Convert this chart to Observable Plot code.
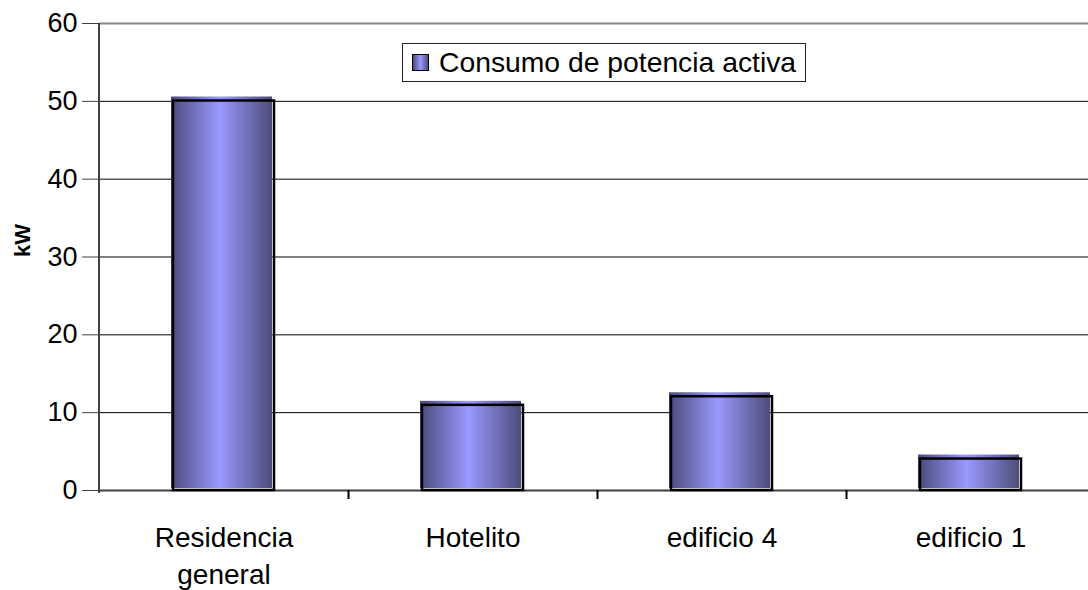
<!DOCTYPE html>
<html><head><meta charset="utf-8">
<script src="https://cdn.jsdelivr.net/npm/d3@7"></script>
<script src="https://cdn.jsdelivr.net/npm/@observablehq/plot@0.6"></script>
<style>
body{margin:0;background:#fff;font-family:"Liberation Sans",Arial,sans-serif;}
#wrap{position:relative;width:1088px;height:590px;}
#legend{position:absolute;left:402px;top:43px;width:404px;height:39px;border:1px solid #222;background:#fff;box-sizing:border-box;display:flex;align-items:center;font-size:28.3px;color:#000;white-space:nowrap;}
#legend .sw{width:17px;height:17px;box-sizing:border-box;border:1px solid #000;background:linear-gradient(to right,#4a4a7c,#9999ff 50%,#4d4d7a);margin-left:9px;margin-right:10px;}
</style></head><body><div id="wrap"></div>
<script>
const categories = ["Residencia\ngeneral", "Hotelito", "edificio 4", "edificio 1"];
const values = [50.3, 11.2, 12.3, 4.3];
const yTicks = [0, 10, 20, 30, 40, 50, 60];
const gridLines = [10, 20, 30, 40, 50];
const seriesName = "Consumo de potencia activa";
const yLabel = "kW";

const data = categories.map((c, i) => ({category: c, value: values[i]}));
const xRange = [99, 1095];
const step = (xRange[1] - xRange[0]) / categories.length;

const leftLine = (index, scales, vals, dims) => {
  const l = d3.create("svg:line")
    .attr("x1", dims.marginLeft).attr("x2", dims.marginLeft)
    .attr("y1", dims.marginTop).attr("y2", dims.height - dims.marginBottom + 3)
    .attr("stroke", "#404040").attr("stroke-width", 2);
  return l.node();
};

const plot = Plot.plot({
  width: 1088, height: 590,
  marginLeft: 99, marginRight: 0, marginTop: 23, marginBottom: 100,
  style: {fontFamily: '"Liberation Sans", Arial, sans-serif', fontSize: "27px", color: "#000", background: "#fff", overflow: "visible"},
  x: {domain: categories, range: xRange, paddingInner: 0.585, paddingOuter: 0.2925, align: 0.5},
  y: {domain: [0, 60]},
  marks: [
    Plot.ruleY(gridLines, {stroke: "#000", strokeWidth: 1}),
    Plot.ruleY([60], {stroke: "#888", strokeWidth: 2}),
    Plot.barY(data, {x: "category", y: "value", fill: "url(#barGrad)", dx: -1, dy: -2, insetRight: 2}),
    Plot.ruleY([0], {stroke: "#404040", strokeWidth: 2}),
    Plot.barY(data, {x: "category", y: "value", fill: "none", stroke: "#000", strokeWidth: 2.5, dy: 1, inset: 1}),
    leftLine,
    Plot.axisY({ticks: yTicks, tickSize: 17, tickPadding: 5, fontSize: 27, stroke: "#404040", label: null}),
    Plot.axisX({ticks: categories.slice(0, 3), tickSize: 9, dx: step / 2, tickFormat: () => "", stroke: "#000", strokeWidth: 2, label: null}),
    Plot.text(categories, {x: d => d, text: d => d, frameAnchor: "bottom", dy: 31, lineAnchor: "top", lineHeight: 1.3, fontSize: 28, fill: "#000"}),
    Plot.text([yLabel], {text: d => d, frameAnchor: "left", dx: -77, rotate: -90, fontWeight: "bold", fontSize: 22, fill: "#000"})
  ]
});
plot.insertAdjacentHTML("afterbegin",
  '<defs><linearGradient id="barGrad" x1="0" x2="1" y1="0" y2="0">' +
  '<stop offset="0" stop-color="#4a4a7c"/><stop offset="0.48" stop-color="#9999ff"/><stop offset="1" stop-color="#4d4d7a"/>' +
  '</linearGradient></defs>');

const wrap = document.getElementById("wrap");
wrap.appendChild(plot);
const legend = document.createElement("div");
legend.id = "legend";
legend.innerHTML = '<span class="sw"></span><span></span>';
legend.lastChild.textContent = seriesName;
wrap.appendChild(legend);
</script>
</body></html>
